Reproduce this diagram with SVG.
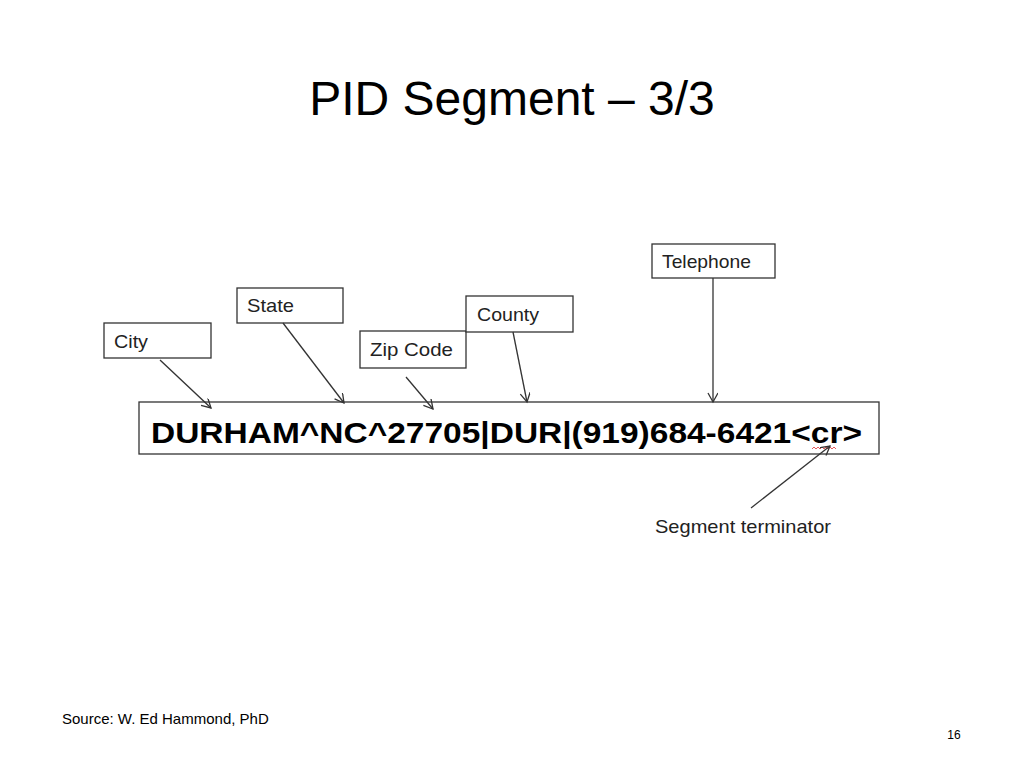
<svg xmlns="http://www.w3.org/2000/svg" width="1024" height="768" viewBox="0 0 1024 768">
<style>
.box{fill:#fff;stroke:#333;stroke-width:1.3}
.lbl{font-family:"Liberation Sans",Arial,sans-serif;font-size:19px;fill:#222}
.con line{stroke:#333;stroke-width:1.3;marker-end:url(#a)}
</style>
<defs><marker id="a" markerWidth="12" markerHeight="12" refX="10" refY="5" orient="auto" markerUnits="userSpaceOnUse"><path d="M1,0 L10,5 L1,10" fill="none" stroke="#333" stroke-width="1.3"/></marker></defs>
<rect width="1024" height="768" fill="#fff"/>
<text x="512" y="115" text-anchor="middle" font-family="Liberation Sans,Arial,sans-serif" font-size="48" fill="#000">PID Segment – 3/3</text>
<g id="main"><rect class="box" x="139" y="402" width="740" height="52"/>
<text x="151" y="443" font-family="Liberation Sans,Arial,sans-serif" font-weight="bold" font-size="30" textLength="711" lengthAdjust="spacingAndGlyphs" fill="#000">DURHAM^NC^27705|DUR|(919)684-6421&lt;cr&gt;</text>
<path d="M812,449 l2,-2 2,2 2,-2 2,2 2,-2 2,2 2,-2 2,2 2,-2 2,2 2,-2 2,2" fill="none" stroke="#e03030" stroke-width="0.8"/></g>
<g id="city"><rect class="box" x="104" y="323" width="107" height="35"/><text class="lbl" x="114" y="348" textLength="34" lengthAdjust="spacingAndGlyphs">City</text></g>
<g id="state"><rect class="box" x="237" y="288" width="106" height="35"/><text class="lbl" x="247" y="312" textLength="47" lengthAdjust="spacingAndGlyphs">State</text></g>
<g id="zip"><rect class="box" x="360" y="331" width="106" height="37"/><text class="lbl" x="370" y="356" textLength="83" lengthAdjust="spacingAndGlyphs">Zip  Code</text></g>
<g id="county"><rect class="box" x="466" y="296" width="107" height="36"/><text class="lbl" x="477" y="321" textLength="62" lengthAdjust="spacingAndGlyphs">County</text></g>
<g id="telephone"><rect class="box" x="652" y="244" width="123" height="34"/><text class="lbl" x="662" y="268" textLength="89" lengthAdjust="spacingAndGlyphs">Telephone</text></g>
<g id="term"><text class="lbl" x="655" y="533" textLength="176" lengthAdjust="spacingAndGlyphs">Segment  terminator</text></g>
<g class="con">
<line x1="160" y1="360" x2="211" y2="408"/>
<line x1="283" y1="323" x2="344" y2="403"/>
<line x1="406" y1="377" x2="433" y2="409"/>
<line x1="513" y1="332" x2="527" y2="402"/>
<line x1="713" y1="278" x2="713" y2="402"/>
<line x1="751" y1="508" x2="830" y2="446"/>
</g>
<text x="62" y="724" font-family="Liberation Sans,Arial,sans-serif" font-size="15" fill="#000">Source:  W. Ed Hammond, PhD</text>
<text x="954" y="739" text-anchor="middle" font-family="Liberation Sans,Arial,sans-serif" font-size="12" fill="#000">16</text>
</svg>
